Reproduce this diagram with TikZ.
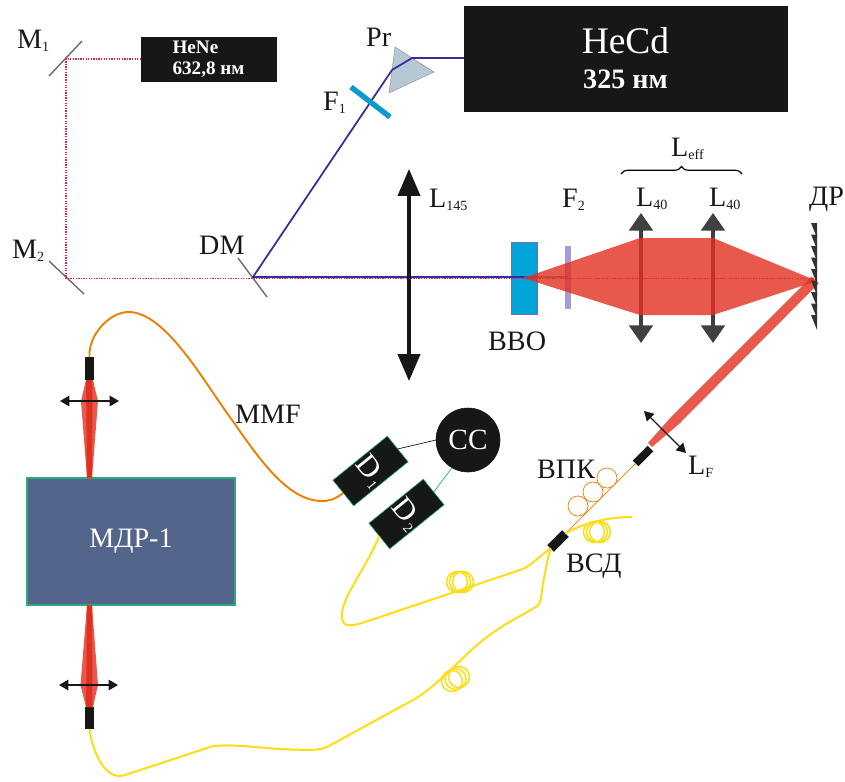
\documentclass[tikz,border=0pt]{standalone}
\usepackage{fontspec}
\setmainfont{Liberation Serif}
\usetikzlibrary{arrows.meta,decorations.pathreplacing}
\definecolor{inkblack}{HTML}{161816}
\definecolor{lensgray}{HTML}{404040}
\definecolor{pumpblue}{HTML}{3A2A9C}
\definecolor{henered}{HTML}{EE1C4E}
\definecolor{beamred}{HTML}{E0301F}
\definecolor{fiberorange}{HTML}{EF7D00}
\definecolor{fiberyellow}{HTML}{FFDD15}
\definecolor{edgeteal}{HTML}{2FA882}
\definecolor{crystalblue}{HTML}{00A5D8}
\definecolor{filterblue}{HTML}{0A9BC9}
\definecolor{filterviolet}{HTML}{A89AD8}
\definecolor{prismgray}{HTML}{B6C8D6}
\definecolor{monoblue}{HTML}{53658A}
\newcommand{\px}{0.03cm}
\newcommand{\lowsub}[1]{\raisebox{-0.3ex}{\fontsize{12}{12}\selectfont #1}}
\tikzset{
  Blackbox/.style={rectangle,fill=inkblack,draw=#1,line width=0.5pt,inner sep=0pt,outer sep=0pt,text=white},
  Blackbox/.default=inkblack,
  Detector/.style={Blackbox=edgeteal,rotate=39,minimum width=70*\px,minimum height=33*\px,font=\fontsize{26}{26}\selectfont},
  Collimator/.style={rectangle,fill=inkblack,inner sep=0pt,outer sep=0pt},
  Label/.style={anchor=base west,inner sep=0pt,text=inkblack,font=\fontsize{24}{24}\selectfont},
  Mirror/.style={draw=gray!85!black,line width=1.2pt},
  Pump/.style={draw=pumpblue,line width=1.5pt},
  Probe/.style={draw=henered,line width=1.2pt,dash pattern=on 1.1pt off 1.1pt},
  BigLens/.style={draw=inkblack,line width=2.8pt,{Triangle[length=23pt,width=19pt]}-{Triangle[length=23pt,width=19pt]}},
  MidLens/.style={draw=lensgray,line width=3pt,{Triangle[length=15pt,width=20pt]}-{Triangle[length=15pt,width=20pt]}},
  SmallLens/.style={draw=inkblack,line width=1.1pt,{Triangle[length=8pt,width=9pt]}-{Triangle[length=8pt,width=9pt]}},
  Beam/.style={fill=beamred,fill opacity=0.8},
  LightBeam/.style={fill=beamred!80!white,draw=none},
  MMF/.style={draw=fiberorange,line width=1.6pt},
  SMF/.style={draw=fiberyellow,line width=1.7pt},
  Coil/.style={draw=fiberyellow,line width=1.3pt},
  Loop/.style={draw=fiberorange,line width=0.6pt}
}

\begin{document}
\begin{tikzpicture}[x=\px,y=-\px]
  \useasboundingbox (0,0) rectangle (845,781);

  \node[Blackbox,minimum width=135*\px,minimum height=44*\px,align=left,font=\fontsize{16.3}{18}\selectfont\bfseries] (HeNe) at (208.5,59) {HeNe\\632,8 нм};
  \node[Blackbox,minimum width=323*\px,minimum height=105*\px,align=center,font=\fontsize{24}{30}\selectfont] (HeCd) at (625.5,58.5)
    {\raisebox{-2.5pt}{\fontsize{32}{30}\selectfont HeCd}\\\raisebox{-2.5pt}{\bfseries 325 нм}};

  \coordinate (M1c) at (66,59);
  \coordinate (M2c) at (66,278.5);
  \coordinate (DMp) at (253,278.5);
  \coordinate (DMc) at (253,277);
  \coordinate (PrIn) at (392,70);
  \coordinate (PrOut) at (412,58);
  \coordinate (BBOc) at (524,277);
  \coordinate (F2c) at (568,277);
  \coordinate (DRc) at (815,280);

  \draw[Mirror] (49,76) -- (82,41);
  \draw[Mirror] (49,261) -- (84,294);
  \draw[Mirror] (238,258) -- (267,297);

  \node[rectangle,fill=crystalblue,draw=pumpblue!70,line width=0.5pt,minimum width=26*\px,minimum height=72*\px,inner sep=0pt] (BBO) at (524,278) {};
  \node[rectangle,fill=filterviolet,minimum width=6.5*\px,minimum height=63*\px,inner sep=0pt] (F2) at (568,277.5) {};
  \draw[MidLens] (641,213) -- (641,343);
  \draw[MidLens] (713,213) -- (713,343);
  \path[fill=prismgray,draw=gray,line width=0.3pt] (395,47) -- (434,72) -- (389,93) -- cycle;

  \draw[Probe] (HeNe.west |- M1c) -- (M1c) -- (M2c) -- (DMp) -- (DRc |- DMp);
  \draw[Pump] (HeCd.west |- PrOut) -- (PrOut) -- (PrIn) -- (DMc) -- (BBOc);
  \draw[Pump,opacity=0.55] (BBOc) -- (F2c);

  \path[Beam] (523,278) -- (640,238) -- (713,238) -- (817,281) -- (713,315) -- (640,315) -- cycle;
  \path[Beam] (811.5,276.5) -- (818.5,283.5) -- (679,424) -- (652,447) -- (648,443) -- (671,417) -- cycle;
  \draw[Probe,draw=beamred] (BBOc |- DMp) -- (DRc |- DMp);

  \draw[draw=filterblue,line width=4.6pt] (351,87) -- (390,117);
  \draw[BigLens] (409,169) -- (409,381);

  \foreach \y in {223,234.5,246,257.5,269,280.5,292,303.5,315}
    \fill[black!80] (811,\y) -- (817,\y) -- (817,\y+15) -- cycle;

  \draw[decorate,decoration={brace,amplitude=7.5*\px},line width=1pt] (621,174) -- (742,174);

  \node[Blackbox,circle,minimum size=64*\px,font=\fontsize{25}{25}\selectfont] (CC) at (468,440) {CC};
  \node[Detector] (D1) at (370.5,471) {\rotatebox{-90}{D\kern1.5pt\lowsub{1}}};
  \node[Detector] (D2) at (406.5,514) {\rotatebox{-90}{D\kern1.5pt\lowsub{2}}};
  \draw[inkblack,line width=0.6pt] (CC.west) -- (D1.east);
  \draw[edgeteal,line width=0.6pt] (CC.240) -- (D2.east);

  \node[Blackbox=edgeteal,fill=monoblue,line width=0.9pt,minimum width=208*\px,minimum height=127*\px,font=\fontsize{24}{24}\selectfont] (MDR) at (131,541.5) {\raisebox{-4pt}{МДР-1}};
  \node[Collimator,minimum width=9*\px,minimum height=23*\px] (ColUp) at (89.5,368.5) {};
  \node[Collimator,minimum width=9*\px,minimum height=22*\px] (ColDown) at (89.5,718) {};
  \node[Collimator,rotate=45,minimum width=21*\px,minimum height=8*\px] (ColF) at (643,456) {};
  \node[Collimator,rotate=45,minimum width=21*\px,minimum height=9.5*\px] (ColS) at (558,541) {};

  \path[LightBeam] (86,380) -- (93,380) -- (98,401) -- (92,478) -- (87,478) -- (81,401) -- cycle;
  \path[fill=beamred] (86,380) -- (92.5,380) -- (92,478) -- (87,478) -- cycle;
  \path[LightBeam] (87,605) -- (92,605) -- (98,685) -- (93,707) -- (86,707) -- (80.5,685) -- cycle;
  \path[fill=beamred] (87,605) -- (92,605) -- (92.5,707) -- (86,707) -- cycle;
  \draw[SmallLens] (60,401) -- (119,401);
  \draw[SmallLens] (59,685) -- (118,685);
  \draw[SmallLens,line width=1.2pt] (644,411) -- (686,453);

  \draw[MMF] (ColUp.north) .. controls (88,335) and (110,311) .. (130,312)
    .. controls (165,314) and (200,375) .. (227,413)
    .. controls (255,452) and (285,501) .. (322,501)
    .. controls (330,501) and (335,499) .. (D1.west);

  \draw[Loop] (ColF.west) -- (ColS.east);
  \foreach \cx/\cy in {578/506,593/492,607/478}
    \draw[Loop] (\cx,\cy) circle[radius=10];

  \draw[SMF] (ColS.east) .. controls (585,522) and (610,517) .. (632,517);
  \foreach \cx in {594,597,600}
    \draw[Coil] (\cx,532) circle[radius=10.5];

  \draw[SMF] (D2.west) .. controls (365,570) and (340,600) .. (342,617)
    .. controls (342,627) and (350,627) .. (365,622)
    -- (523,569) .. controls (530,566) and (540,556) .. (ColS.west);
  \foreach \cx in {457,460,463}
    \draw[Coil] (\cx,582) circle[radius=10.5];

  \draw[SMF] (ColS.west) .. controls (546,565) and (545,575) .. (543,583)
    .. controls (541,600) and (540,604) .. (537,606)
    .. controls (520,617) and (505,623) .. (487,637)
    .. controls (470,650) and (458,663) .. (443,677)
    .. controls (430,689) and (420,696) .. (413,700)
    -- (327,747) .. controls (318,751) and (305,750) .. (280,749)
    .. controls (260,748) and (235,744) .. (213,746)
    -- (125,775) .. controls (105,782) and (92,750) .. (ColDown.south);
  \foreach \cx/\cy in {452/681,455.5/679,459/677}
    \draw[Coil] (\cx,\cy) circle[radius=10.5];

  \node[Label] (M1t) at (17,48) {M\lowsub{1}};
  \node[Label] (M2t) at (12,258) {M\lowsub{2}};
  \node[Label] (Prt) at (366,46) {Pr};
  \node[Label] (F1t) at (323,110) {F\lowsub{1}};
  \node[Label] (DMt) at (199,254) {DM};
  \node[Label] (L145t) at (429,207) {L\lowsub{145}};
  \node[Label] (F2t) at (562,207) {F\lowsub{2}};
  \node[Label] (L40at) at (636,206) {L\lowsub{40}};
  \node[Label] (L40bt) at (709,206) {L\lowsub{40}};
  \node[Label] (Lefft) at (671,156) {L\lowsub{eff}};
  \node[Label] (DRt) at (809,205) {ДР};
  \node[Label] (BBOt) at (488,350) {BBO};
  \node[Label] (MMFt) at (235,423) {MMF};
  \node[Label] (LFt) at (688,474) {L\lowsub{F}};
  \node[Label] (VPKt) at (537,478) {ВПК};
  \node[Label] (VSDt) at (566,572) {ВСД};
\end{tikzpicture}
\end{document}
